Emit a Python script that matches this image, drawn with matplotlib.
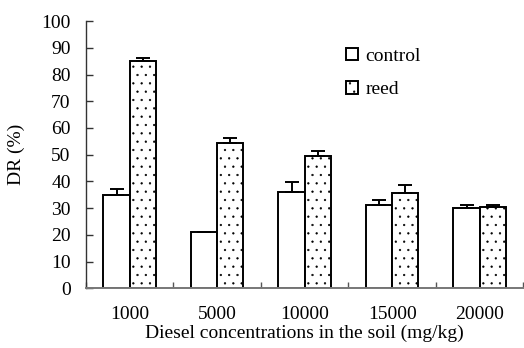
import matplotlib
matplotlib.use('Agg')
import matplotlib.pyplot as plt
import numpy as np

plt.rcParams['font.family'] = ['Liberation Serif', 'DejaVu Serif']
plt.rcParams['hatch.color'] = '#8a8a8a'
plt.rcParams['hatch.linewidth'] = 0.4

concentrations = ['1000', '5000', '10000', '15000', '20000']
control = [34.8, 21.1, 36.1, 31.1, 29.9]
control_err = [2.5, 0.0, 3.8, 1.9, 1.4]
reed = [85.0, 54.2, 49.6, 35.5, 30.5]
reed_err = [1.3, 2.1, 1.9, 3.1, 0.7]

x = np.arange(len(concentrations))
w = 0.3

fig = plt.figure(figsize=(5.24, 3.48), dpi=100)
ax = fig.add_axes([0.164, 0.1715, 0.835, 0.768])

err_kw = dict(ecolor='black', elinewidth=1.4, capsize=5, capthick=1.4)
ax.bar(x - w / 2, control, w, color='white', edgecolor='black', linewidth=1.4,
       yerr=[np.zeros(len(control)), control_err], error_kw=err_kw, label='control')
ax.bar(x + w / 2, reed, w, color='white', edgecolor='black', linewidth=1.4,
       hatch='..', yerr=[np.zeros(len(reed)), reed_err], error_kw=err_kw, label='reed')

ax.set_xlim(-0.5, 4.5)
ax.set_ylim(0, 100)
ax.set_yticks(range(0, 101, 10))
ax.set_xticks(x)
ax.set_xticklabels(concentrations)
ax.set_xticks(np.arange(-0.5, 4.6, 1), minor=True)

for s in ['top', 'right']:
    ax.spines[s].set_visible(False)
ax.spines['left'].set_color('#333333')
ax.spines['bottom'].set_color('#777777')
ax.spines['left'].set_linewidth(1.0)
ax.spines['bottom'].set_linewidth(1.4)

ax.tick_params(axis='y', direction='in', length=5, width=1, pad=11,
               labelsize=14, color='#333333')
ax.tick_params(axis='x', which='major', length=0, pad=13, labelsize=14)
ax.tick_params(axis='x', which='minor', direction='in', length=4, width=1,
               color='#555555')

ax.set_xlabel('Diesel concentrations in the soil (mg/kg)', fontsize=14, labelpad=1)
ax.set_ylabel('DR (%)', fontsize=14, labelpad=12)

ax.legend(loc='upper left', bbox_to_anchor=(0.555, 0.965), frameon=False,
          fontsize=14, handlelength=0.6, handleheight=0.6, handletextpad=0.4,
          labelspacing=0.85)

plt.savefig('out.png', dpi=100)
